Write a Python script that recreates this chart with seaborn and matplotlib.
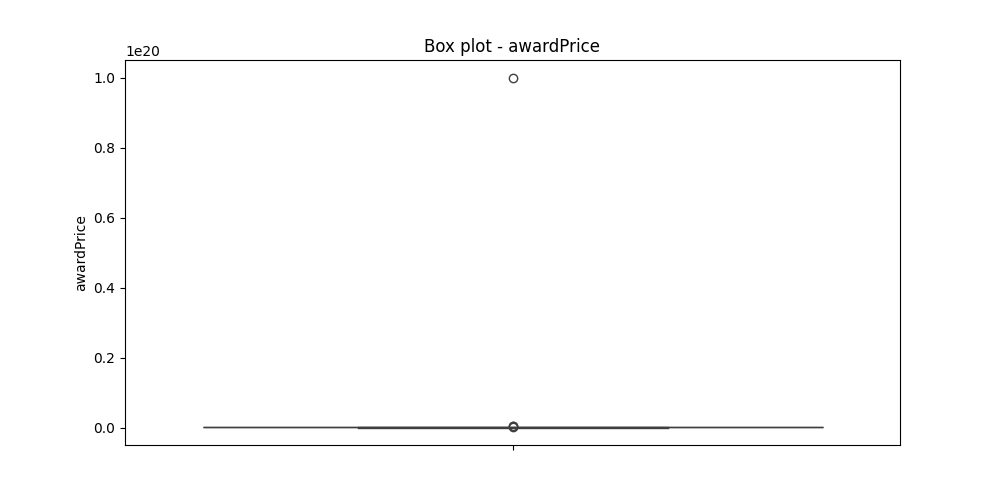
import pandas as pd
import seaborn as sns
import matplotlib.pyplot as plt

# award prices (one huge bogus entry dominates the scale)
award_price = [1200, 3500, 5000, 8000, 12000, 15000, 20000, 25000, 30000,
               45000, 60000, 90000, 150000, 500000, 2500000,
               1e17, 3e17, 5e17, 1e20]

df = pd.DataFrame({"awardPrice": award_price})

plt.figure(figsize=(10, 5))
sns.boxplot(y=df["awardPrice"])
plt.title("Box plot - awardPrice")
plt.savefig("out.png", dpi=100)
plt.close()
